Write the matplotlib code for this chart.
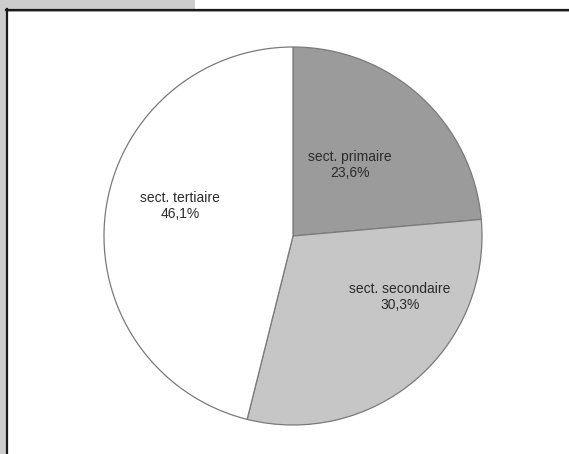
import matplotlib
matplotlib.use("Agg")
import matplotlib.pyplot as plt
from matplotlib.patches import Rectangle
from matplotlib.lines import Line2D

categories = ["sect. primaire", "sect. secondaire", "sect. tertiaire"]
values = [23.6, 30.3, 46.1]
value_labels = ["23,6%", "30,3%", "46,1%"]
colors = ["#9b9b9b", "#c6c6c6", "#ffffff"]

W, H = 569, 454
fig = plt.figure(figsize=(W / 100, H / 100), dpi=100)
fig.patch.set_facecolor("white")
plt.rcParams["font.family"] = ["Liberation Sans", "DejaVu Sans"]

# frame decorations (figure pixel coordinates)
def px(x, y):
    return x / W, 1 - y / H

fig.patches.append(Rectangle((0, 0), 6 / W, 1, transform=fig.transFigure,
                             facecolor="#cdcdcd", edgecolor="none", zorder=0))
fig.patches.append(Rectangle(px(0, 9), 195 / W, 9 / H, transform=fig.transFigure,
                             facecolor="#cdcdcd", edgecolor="none", zorder=0))
fig.lines.append(Line2D([6 / W, 1], [1 - 9.8 / H] * 2, transform=fig.transFigure,
                        color="#1a1a1a", lw=1.6))
fig.lines.append(Line2D([6 / W, 1], [1 - 11 / H] * 2, transform=fig.transFigure,
                        color="#9a9a9a", lw=0.7))
fig.lines.append(Line2D([6.8 / W] * 2, [0, 1 - 9 / H], transform=fig.transFigure,
                        color="#1a1a1a", lw=1.6))

cx, cy, r = 293, 236, 189
ax = fig.add_axes([(cx - r) / W, (H - cy - r) / H, 2 * r / W, 2 * r / H])
ax.pie(values, colors=colors, startangle=90, counterclock=False,
       wedgeprops=dict(edgecolor="#7a7a7a", linewidth=0.9))
ax.set_xlim(-1, 1)
ax.set_ylim(-1, 1)
ax.set_aspect("equal")
ax.axis("off")

label_pos = [(350, 165), (400, 297), (180, 206)]
for (x, y), cat, lab in zip(label_pos, categories, value_labels):
    fx, fy = px(x, y)
    fig.text(fx, fy, f"{cat}\n{lab}", ha="center", va="center",
             fontsize=10, color="#2a2a2a", linespacing=1.1)

fig.savefig("out.png", dpi=100)
